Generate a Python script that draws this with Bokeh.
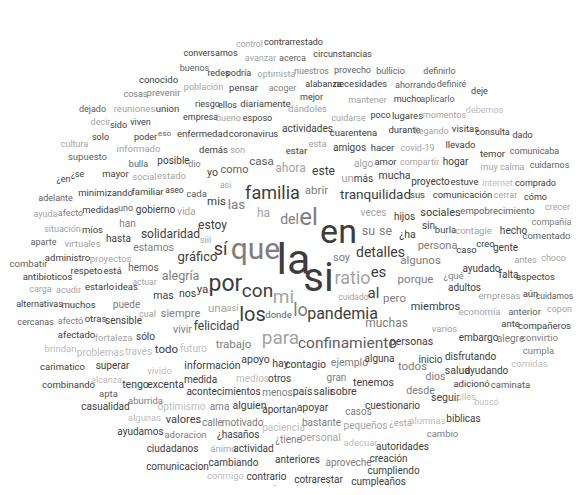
from bokeh.plotting import figure
from bokeh.models import ColumnDataSource, Range1d
from bokeh.embed import file_html
from bokeh.resources import INLINE
from bokeh.core.properties import value

# ---- data: words, relative frequency, tone group ----
words = [
    "contrarrestado", "control", "conversamos", "avanzar", "acerca", "circunstancias", "buenos", "redes", "podría", "optimista",
    "nuestros", "provecho", "bullicio", "definirlo", "conocido", "población", "pensar", "acoger", "alabanza", "necesidades",
    "ahorrando", "definiré", "deje", "cosas", "prevenir", "mejor", "mantener", "mucho", "aplicarlo", "dejado",
    "reuniones", "union", "riesgo", "ellos", "diariamente", "dándoles", "poco", "lugares", "momentos", "debemos",
    "empresa", "bueno", "esposo", "cuidarse", "decir", "sido", "viven", "solo", "poder", "eso",
    "enfermedad", "coronavirus", "actividades", "cuarentena", "durante", "llegando", "visitas", "consulta", "dado", "cultura",
    "informado", "demás", "son", "estar", "esta", "amigos", "hacer", "covid-19", "llevado", "temor",
    "comunicaba", "supuesto", "bulla", "posible", "dio", "casa", "ahora", "algo", "amor", "compartir",
    "hogar", "muy calma", "cuidarnos", "¿en", "¿se", "mayor", "social", "estado", "yo", "como",
    "este", "un", "más", "mucha", "proyecto", "estuve", "internet", "comprado", "asi", "adelante",
    "minimizando", "familiar", "aseo", "cada", "familia", "abrir", "tranquilidad", "sus", "comunicación", "cerrar",
    "cómo", "mis", "las", "ayuda", "afecto", "medidas", "uno", "gobierno", "vida", "ha",
    "del", "el", "veces", "hijos", "sociales", "empobrecimiento", "crecer", "compañía", "situación", "míos",
    "han", "solidaridad", "estoy", "en", "su", "se", "¿ha", "sin", "burla", "contagie",
    "hecho", "comentado", "aparte", "virtuales", "hasta", "estamos", "siii", "sí", "que", "la",
    "detalles", "persona", "caso", "creo", "gente", "gráfico", "soy", "algunos", "antes", "choco",
    "combatir", "administro", "proyectos", "hemos", "ayudado", "respeto", "está", "es", "alegría", "falta",
    "aspectos", "¿qué", "si", "ratio", "porque", "antibioticos", "actuar", "por", "carga", "acudir",
    "estarlo", "ideas", "adultos", "ya", "con", "al", "mas", "nos", "mi", "cuidado",
    "pero", "empresas", "aún", "cuidamos", "alternativas", "muchos", "puede", "miembros", "una", "así",
    "lo", "economía", "anterior", "copon", "cual", "siempre", "los", "donde", "pandemia", "cercanas",
    "afectó", "otras", "sensible", "felicidad", "muchas", "ante", "compañeros", "varios", "vivir", "afectado",
    "fortaleza", "sólo", "para", "confinamiento", "trabajo", "personas", "embargo", "alegre", "convirtio", "brindan",
    "problemas", "través", "todo", "futuro", "cumpla", "carimatico", "superar", "vivido", "información", "apoyo",
    "hay", "contagio", "ejemplo", "alguna", "todos", "inicio", "disfrutando", "comidas", "dios", "salud",
    "ayudando", "combinando", "alcanza", "tengo", "excenta", "medida", "medios", "otros", "gran", "tenemos",
    "adicionó", "caminata", "desde", "apta", "acontecimientos", "menos", "país", "salir", "sobre", "seguir",
    "clles", "buscó", "casualidad", "aburrida", "optimismo", "ama", "alguien", "aportan", "apoyar", "casos",
    "cuestionario", "algunas", "valores", "calle", "motivado", "paciencia", "bastante", "pequeños", "¿está", "alumnas",
    "bíblicas", "ayudamos", "adoracion", "¿has", "años", "¿tiene", "personal", "adecuar", "cambio", "ciudadanos",
    "ánimo", "actividad", "autoridades", "creación", "comunicacion", "cambiando", "anteriores", "aproveche", "cumpliendo", "conmigo",
    "contrario", "cotrarestar", "cumpleaños", "convivencia",
]

freq = [
    9, 8.5, 9, 9, 9, 9, 9, 9, 9, 9,
    9, 9, 9, 9, 9.5, 9, 9.5, 9, 9, 9.5,
    9, 9, 9, 9, 9.5, 9, 9, 9, 9, 9,
    9.5, 9.5, 9, 9, 9.5, 9.5, 9, 9.5, 9, 9,
    9, 9, 9, 9, 9, 9, 9, 9, 9, 8,
    9.5, 9.5, 10, 9.5, 9.5, 9, 9.5, 9, 9, 9,
    9.5, 9.5, 9, 9.5, 9.5, 10, 9.5, 9, 9.5, 9.5,
    9, 9.5, 9, 10, 9, 11.5, 12, 10, 9.5, 9,
    10, 9, 9, 9, 8.5, 9.5, 9, 9.5, 10.5, 11,
    12, 11.5, 10, 10.5, 10, 9.5, 9, 9, 8.5, 9,
    9.5, 9.5, 8.5, 9.5, 18, 11.5, 13.5, 9.5, 9.5, 9,
    9, 11.5, 13.5, 9, 9, 9.5, 9, 10, 10, 12,
    14, 24, 10, 10, 11, 9.5, 9, 9, 9, 9.5,
    10, 12, 12, 34, 12.5, 12.5, 10.5, 10, 9.5, 9.5,
    10, 9.5, 9, 9.5, 10, 10.5, 9, 18, 30, 43,
    14, 11, 9.5, 9.5, 10, 13, 11, 11.5, 9, 9,
    9.5, 9.5, 9.5, 10, 10, 9.5, 9.5, 15, 12.5, 10,
    9.5, 9.5, 40, 18, 11.5, 9.5, 8.5, 23, 9, 9,
    9.5, 9.5, 10, 11.5, 19, 15, 10.5, 10.5, 19, 8.5,
    11.5, 9.5, 9.5, 8.5, 9, 9.5, 10, 11, 11.5, 9,
    18, 9.5, 9.5, 9, 9, 11, 20, 9.5, 16, 9,
    9, 9.5, 10, 12, 12, 9.5, 9.5, 9.5, 10.5, 9.5,
    9.5, 10, 19, 15.5, 11.5, 10.5, 10, 10, 9.5, 9.5,
    10, 10, 11.5, 10, 9.5, 9.5, 10, 9.5, 10.5, 10.5,
    10.5, 10.5, 10.5, 10, 11.5, 10, 10, 9.5, 10.5, 10.5,
    10, 9.5, 9, 10.5, 10.5, 10, 10, 10, 10, 10.5,
    9.5, 9.5, 10.5, 9.5, 10, 10, 10.5, 10.5, 10.5, 10.5,
    9.5, 9, 10, 9.5, 10, 10, 10.5, 10, 10.5, 10,
    10, 9.5, 11, 10, 10, 10, 10, 10, 9.5, 9.5,
    10, 10, 9.5, 10, 10, 10, 10.5, 9.5, 9.5, 10,
    9.5, 10, 10, 10, 10, 10, 10, 10, 10, 9.5,
    10, 10, 10, 9.5,
]

tone = [
    1, 4, 1, 4, 2, 1, 2, 1, 1, 4,
    3, 2, 2, 2, 1, 4, 1, 3, 1, 1,
    2, 2, 1, 3, 3, 1, 4, 1, 2, 2,
    4, 1, 1, 1, 1, 4, 1, 1, 4, 5,
    1, 4, 1, 4, 4, 1, 1, 1, 1, 2,
    1, 1, 1, 1, 1, 4, 1, 1, 1, 4,
    4, 1, 4, 1, 4, 1, 1, 4, 1, 1,
    2, 2, 2, 1, 3, 2, 4, 4, 1, 4,
    1, 4, 2, 1, 1, 1, 4, 4, 1, 2,
    1, 4, 1, 1, 1, 1, 5, 1, 4, 2,
    1, 1, 1, 2, 1, 3, 1, 1, 1, 4,
    1, 1, 3, 4, 3, 1, 2, 1, 4, 4,
    3, 3, 4, 1, 1, 2, 4, 3, 4, 1,
    3, 1, 1, 1, 3, 3, 1, 1, 1, 4,
    1, 2, 2, 4, 1, 3, 4, 1, 3, 1,
    1, 3, 1, 1, 1, 1, 3, 3, 4, 4,
    2, 1, 4, 2, 1, 1, 1, 1, 3, 1,
    1, 3, 1, 4, 3, 1, 4, 1, 4, 4,
    1, 1, 1, 1, 1, 1, 1, 1, 4, 4,
    3, 4, 1, 2, 1, 1, 3, 1, 4, 4,
    3, 4, 2, 4, 4, 3, 1, 2, 1, 2,
    3, 1, 1, 1, 3, 1, 1, 4, 3, 1,
    4, 1, 4, 2, 3, 1, 1, 3, 3, 5,
    5, 5, 1, 5, 3, 1, 1, 5, 1, 1,
    1, 1, 3, 1, 3, 1, 1, 5, 3, 1,
    1, 1, 5, 1, 1, 1, 5, 1, 3, 1,
    1, 2, 3, 2, 1, 3, 1, 1, 1, 1,
    5, 5, 1, 3, 5, 3, 1, 1, 1, 3,
    1, 5, 1, 3, 3, 5, 3, 4, 4, 5,
    1, 1, 3, 1, 1, 3, 4, 5, 3, 1,
    4, 1, 1, 1, 1, 1, 1, 3, 1, 5,
    1, 1, 1, 1,
]

# ---- layout of the cloud (word centres, picture pixels) ----
layout = [
    (293, 41), (249, 43), (210, 52), (260, 57), (292, 57), (342, 53), (194, 67), (218, 72), (238, 72), (276, 73),
    (311, 70), (352, 69), (390, 70), (439, 70), (158, 79), (203, 86), (243, 87), (282, 87), (323, 83), (360, 83),
    (415, 84), (451, 83), (479, 90), (135, 93), (163, 92), (311, 96), (367, 99), (407, 98), (437, 98), (92, 108),
    (134, 108), (167, 108), (207, 103), (227, 104), (265, 103), (307, 108), (380, 114), (407, 115), (444, 114), (484, 109),
    (200, 116), (228, 117), (257, 117), (348, 117), (100, 121), (118, 124), (140, 121), (100, 136), (145, 136), (164, 133),
    (202, 133), (253, 133), (307, 128), (353, 132), (404, 129), (431, 130), (465, 128), (492, 131), (522, 134), (74, 143),
    (138, 148), (213, 149), (237, 149), (296, 150), (317, 143), (349, 147), (382, 147), (417, 147), (460, 144), (492, 153),
    (534, 150), (87, 156), (138, 163), (173, 160), (194, 163), (261, 160), (290, 167), (363, 163), (385, 161), (419, 161),
    (455, 161), (502, 166), (549, 164), (63, 178), (77, 173), (115, 173), (144, 176), (171, 175), (212, 172), (234, 169),
    (323, 170), (347, 177), (363, 178), (394, 175), (430, 181), (464, 181), (497, 182), (535, 182), (225, 184), (55, 197),
    (105, 192), (147, 191), (174, 189), (196, 193), (272, 192), (316, 189), (375, 193), (417, 194), (462, 194), (505, 194),
    (535, 196), (216, 200), (236, 203), (45, 213), (70, 212), (100, 209), (125, 207), (155, 209), (186, 211), (263, 212),
    (289, 218), (308, 216), (373, 212), (404, 216), (440, 212), (497, 210), (557, 206), (551, 221), (62, 228), (92, 229),
    (127, 223), (170, 233), (212, 224), (338, 230), (368, 230), (385, 230), (407, 234), (428, 225), (445, 229), (473, 230),
    (513, 230), (546, 235), (43, 241), (82, 243), (118, 238), (153, 247), (205, 239), (220, 248), (255, 248), (293, 258),
    (380, 251), (437, 245), (466, 249), (485, 243), (505, 247), (197, 256), (341, 257), (420, 259), (525, 259), (553, 257),
    (28, 263), (67, 257), (110, 258), (143, 267), (481, 268), (86, 270), (112, 270), (378, 271), (180, 275), (508, 274),
    (535, 276), (453, 275), (318, 277), (352, 277), (415, 278), (47, 276), (144, 281), (225, 283), (40, 288), (68, 289),
    (99, 286), (126, 286), (464, 287), (202, 288), (257, 290), (373, 292), (163, 295), (187, 293), (283, 296), (353, 296),
    (394, 297), (499, 295), (530, 293), (554, 295), (39, 303), (78, 304), (126, 304), (435, 306), (217, 307), (232, 307),
    (300, 309), (479, 311), (524, 311), (559, 308), (147, 313), (180, 313), (252, 313), (278, 314), (342, 313), (35, 321),
    (70, 320), (95, 318), (123, 320), (216, 325), (386, 322), (510, 323), (544, 325), (444, 328), (182, 329), (76, 334),
    (113, 337), (145, 336), (280, 337), (347, 342), (233, 343), (411, 341), (478, 337), (510, 338), (539, 337), (60, 348),
    (100, 352), (138, 351), (166, 348), (193, 348), (538, 350), (62, 366), (112, 365), (159, 370), (212, 365), (255, 359),
    (280, 363), (305, 364), (349, 362), (379, 358), (412, 365), (430, 359), (470, 356), (529, 363), (435, 376), (457, 370),
    (486, 370), (68, 384), (106, 379), (135, 384), (165, 384), (200, 379), (252, 378), (279, 378), (336, 377), (373, 382),
    (471, 383), (510, 384), (420, 390), (108, 393), (223, 391), (277, 392), (302, 391), (323, 391), (343, 391), (445, 397),
    (466, 396), (486, 401), (105, 406), (145, 400), (181, 406), (219, 406), (249, 405), (279, 409), (312, 407), (358, 411),
    (392, 405), (144, 417), (183, 419), (212, 422), (242, 422), (283, 427), (321, 422), (365, 425), (400, 422), (427, 420),
    (463, 418), (140, 431), (185, 434), (227, 434), (248, 434), (288, 439), (320, 437), (360, 442), (442, 433), (172, 448),
    (223, 448), (253, 448), (402, 446), (388, 458), (177, 466), (233, 462), (297, 459), (348, 462), (393, 470), (225, 475),
    (266, 476), (318, 479), (378, 481), (278, 488),
]

tone_colors = {1: "#3d3d3d", 2: "#5e5e5e", 3: "#7d7d7d", 4: "#a3a3a3", 5: "#bdbdbd"}

assert len(words) == len(freq) == len(tone) == len(layout)

source = ColumnDataSource(data=dict(
    x=[p[0] for p in layout],
    y=[p[1] for p in layout],
    word=words,
    size=["%spx" % f for f in freq],
    color=[tone_colors[t] for t in tone],
))

p = figure(width=574, height=487, output_backend="svg", toolbar_location=None,
           x_range=Range1d(0, 574), y_range=Range1d(487, 0),
           min_border=0, outline_line_color=None, background_fill_color="white")
p.axis.visible = False
p.grid.visible = False

p.text(x="x", y="y", text="word", source=source, text_font=value("Roboto"),
       text_font_size="size", text_color="color", text_align="center",
       text_baseline="middle")

open("out.html", "w").write(file_html(p, INLINE))
